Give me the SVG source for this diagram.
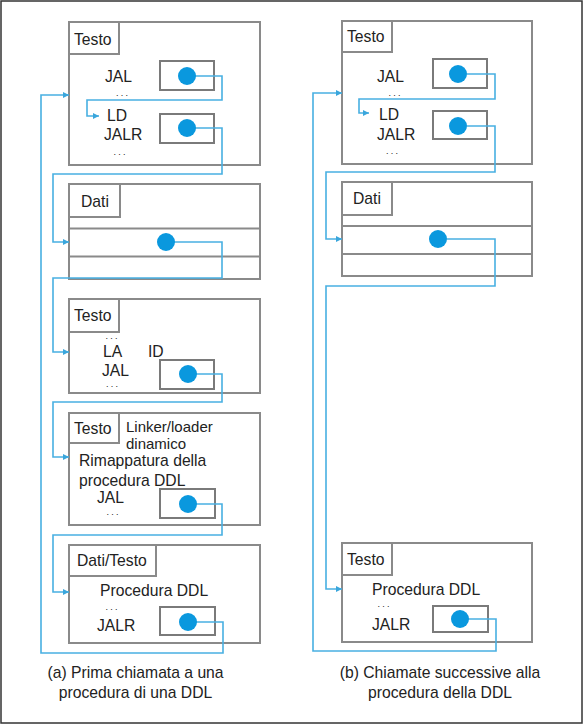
<svg xmlns="http://www.w3.org/2000/svg" width="584" height="725" viewBox="0 0 584 725">
<defs>
<style>
.box{fill:none;stroke:#8a8a8a;stroke-width:2}
.frame{fill:#fff;stroke:#333;stroke-width:1.5}
.in{fill:none;stroke:#7a7a7a;stroke-width:2}
.dot{fill:#0a98de}
.w{fill:none;stroke:#48b0e2;stroke-width:1.6}
text{font-family:"Liberation Sans",Arial,sans-serif;font-size:15.7px;fill:#222}
text.dd{font-size:9px;letter-spacing:2.2px}
text.sm{font-size:15px}
.cap{text-anchor:middle}
</style>
<marker id="ah" viewBox="0 0 8 8" refX="8" refY="4" markerWidth="6" markerHeight="6" markerUnits="userSpaceOnUse" orient="auto">
<path d="M0,0 L8,4 L0,8 z" fill="#3aa6dc"/>
</marker>
</defs>
<rect class="frame" x="1" y="1" width="581" height="722"/>

<g id="a-testo1">
<rect class="box" x="69" y="22" width="191" height="143"/>
<rect class="box" x="69" y="22" width="50" height="32"/>
<text x="74" y="45">Testo</text>
<text x="105" y="82">JAL</text>
<text class="dd" x="116" y="95.5">...</text>
<text x="107" y="121">LD</text>
<text x="104" y="140">JALR</text>
<text class="dd" x="113.5" y="154.5">...</text>
<rect class="in" x="160" y="61" width="54" height="29"/>
<rect class="in" x="160" y="114" width="54" height="29"/>
</g>
<g id="a-dati">
<rect class="box" x="69" y="184" width="191" height="95"/>
<rect class="box" x="69" y="184" width="51" height="33"/>
<line class="box" x1="69" y1="228.5" x2="260" y2="228.5"/>
<line class="box" x1="69" y1="256.5" x2="260" y2="256.5"/>
<text x="81" y="207">Dati</text>
</g>
<g id="a-testo2">
<rect class="box" x="69" y="299" width="191" height="94"/>
<rect class="box" x="69" y="299" width="50" height="33"/>
<text x="74" y="321">Testo</text>
<text class="dd" x="105.5" y="339">...</text>
<text x="103" y="357">LA</text>
<text x="148" y="357">ID</text>
<text x="102" y="375.5">JAL</text>
<text class="dd" x="106" y="387">...</text>
<rect class="in" x="160" y="360" width="54" height="29"/>
</g>
<g id="a-linker">
<rect class="box" x="69" y="413" width="191" height="112"/>
<rect class="box" x="69" y="413" width="50" height="30"/>
<text x="74" y="434">Testo</text>
<text class="sm" x="126" y="432">Linker/loader</text>
<text class="sm" x="126" y="448.8">dinamico</text>
<text x="79" y="466.2">Rimappatura della</text>
<text x="79" y="485.5">procedura DDL</text>
<text x="97" y="503.2">JAL</text>
<text class="dd" x="106.5" y="514.8">...</text>
<rect class="in" x="160" y="489" width="55" height="29"/>
</g>
<g id="a-datitesto">
<rect class="box" x="69" y="545" width="191" height="98"/>
<rect class="box" x="69" y="545" width="87" height="31"/>
<text x="77" y="566">Dati/Testo</text>
<text x="100" y="596">Procedura DDL</text>
<text class="dd" x="105.5" y="609.5">...</text>
<text x="97" y="631">JALR</text>
<rect class="in" x="160" y="607" width="55" height="28"/>
</g>

<g id="b-testo1">
<rect class="box" x="342" y="21" width="190" height="143"/>
<rect class="box" x="342" y="21" width="50" height="31"/>
<text x="347" y="42">Testo</text>
<text x="377" y="82">JAL</text>
<text class="dd" x="388.5" y="95.5">...</text>
<text x="379" y="120">LD</text>
<text x="377" y="140">JALR</text>
<text class="dd" x="386" y="154">...</text>
<rect class="in" x="433" y="59" width="54" height="29"/>
<rect class="in" x="433" y="111" width="54" height="28"/>
</g>
<g id="b-dati">
<rect class="box" x="342" y="182" width="190" height="94"/>
<rect class="box" x="342" y="182" width="50" height="33"/>
<line class="box" x1="342" y1="226" x2="532" y2="226"/>
<line class="box" x1="342" y1="254" x2="532" y2="254"/>
<text x="353" y="204">Dati</text>
</g>
<g id="b-testo2">
<rect class="box" x="342" y="543" width="190" height="99"/>
<rect class="box" x="342" y="543" width="50" height="32"/>
<text x="347" y="565">Testo</text>
<text x="372" y="595">Procedura DDL</text>
<text class="dd" x="377.5" y="607">...</text>
<text x="372" y="630">JALR</text>
<rect class="in" x="433" y="606" width="55" height="26"/>
</g>

<g id="connectors">
<path class="w" d="M195,76 H222 V100 H87 V116 H99" marker-end="url(#ah)"/>
<path class="w" d="M195,128 H222 V174 H53 V242 H69" marker-end="url(#ah)"/>
<path class="w" d="M174,242 H222 V278 H53 V352 H69" marker-end="url(#ah)"/>
<path class="w" d="M196,374 H222 V402 H53 V457 H69" marker-end="url(#ah)"/>
<path class="w" d="M196,504 H222 V535 H53 V592 H69" marker-end="url(#ah)"/>
<path class="w" d="M196,622 H223 V653 H41 V95 H69" marker-end="url(#ah)"/>
<path class="w" d="M467,74 H495 V99 H359 V113 H369" marker-end="url(#ah)"/>
<path class="w" d="M467,126 H495 V172 H326 V239 H342" marker-end="url(#ah)"/>
<path class="w" d="M447,239 H495 V286 H326 V589 H342" marker-end="url(#ah)"/>
<path class="w" d="M468,619 H496 V651 H313 V93 H342" marker-end="url(#ah)"/>
<circle class="dot" cx="187" cy="76" r="9"/>
<circle class="dot" cx="187" cy="128" r="9"/>
<circle class="dot" cx="166" cy="242" r="9"/>
<circle class="dot" cx="188" cy="374" r="9"/>
<circle class="dot" cx="188" cy="504" r="9"/>
<circle class="dot" cx="188" cy="622" r="9"/>
<circle class="dot" cx="458" cy="74" r="9"/>
<circle class="dot" cx="458" cy="126" r="9"/>
<circle class="dot" cx="438" cy="239" r="9"/>
<circle class="dot" cx="460" cy="619" r="9"/>
</g>

<text class="cap" x="135.5" y="678">(a) Prima chiamata a una</text>
<text class="cap" x="135.5" y="698">procedura di una DDL</text>
<text class="cap" x="440" y="678">(b) Chiamate successive alla</text>
<text class="cap" x="440" y="698">procedura della DDL</text>
</svg>
